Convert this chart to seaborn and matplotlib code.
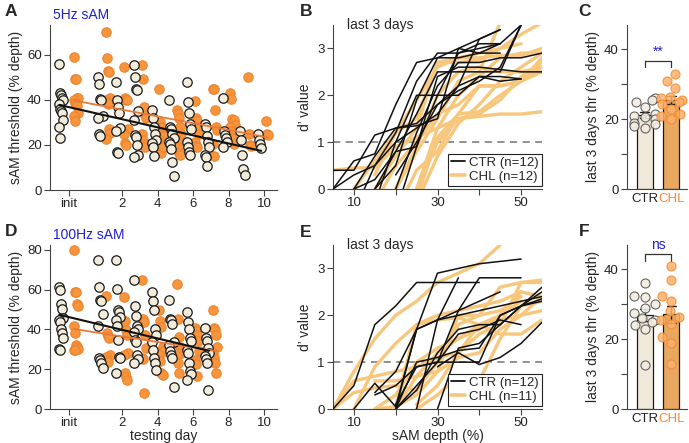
import numpy as np
import pandas as pd
import seaborn as sns
import matplotlib
matplotlib.use("Agg")
from matplotlib import pyplot as plt
from matplotlib.lines import Line2D

sns.set_style("ticks")
plt.rcParams['font.family'] = ['Liberation Sans', 'DejaVu Sans']
plt.rcParams['axes.edgecolor'] = '#444444'
plt.rcParams['xtick.color'] = '#444444'
plt.rcParams['ytick.color'] = '#444444'
plt.rcParams['xtick.labelcolor'] = '#222222'
plt.rcParams['ytick.labelcolor'] = '#222222'

# colours
ctr_face = '#F3ECDB'
chl_face = '#F8953C'
chl_edge = '#EC8430'
ctr_line = '#111111'
chl_line = '#F8C77E'
blue = '#2020CC'

# ---- panel A / D: thresholds per testing day ----
days = ['init', 1, 2, 3, 4, 5, 6, 7, 8, 9, 10]
day_pos = {'init': -1, 1: 1, 2: 2, 3: 3, 4: 4, 5: 5, 6: 6, 7: 7, 8: 8, 9: 9, 10: 10}

a_ctr = [[56, 43, 42, 41, 40, 38, 36, 35, 34, 31, 28, 23],
         [50, 47, 40.5, 40, 33, 32, 25, 24],
         [48, 40, 37, 34, 27.5, 26, 17, 16.5],
         [55.5, 50, 45, 44.5, 35, 31, 24.5, 23.5, 20, 15.5, 14.5],
         [35.5, 32, 28, 25, 22, 21, 19, 15],
         [40, 28, 27, 25, 23, 21.5, 20.5, 18, 12.5, 6],
         [48, 39, 34, 29.5, 27, 21.5, 19, 17, 15.5],
         [29.5, 28, 24, 21.5, 19, 15.5, 14.5, 10.5],
         [41, 26, 24.5, 23, 21.5, 19],
         [26, 22, 15.5, 9.5, 6.5],
         [25, 22, 20.5, 18.5]]
a_chl = [[59, 49.5, 49.5, 41, 41, 40, 38.5, 38, 37.5, 34, 33, 30.5],
         [70, 58.5, 53, 52.5, 41, 40, 39, 38, 27, 25.5, 22.5],
         [54.5, 41, 40, 40, 27, 25, 21, 20],
         [55.5, 49.5, 37, 33.5, 32, 25, 22, 20.5, 19],
         [45, 30, 28, 25, 24, 22, 20.5, 16.5, 19],
         [35.5, 34, 32, 28, 25, 22, 19, 16.5, 15.5],
         [39.5, 32, 30.5, 28, 25, 21.5, 19.5, 19],
         [45, 45, 35.5, 28, 26.5, 20.5, 15],
         [43, 40.5, 31.5, 31, 29, 28, 26, 23, 20.5],
         [50, 25, 20, 19.5],
         [30.5, 25, 24.5]]

d_ctr = [[61.5, 60, 53, 50.5, 46, 45, 44, 40, 38, 35.5, 30, 29.5],
         [75, 61.5, 55, 54.5, 48, 42, 25.5, 24.5, 23, 20.5],
         [75, 60.5, 50, 49, 46.5, 45, 42, 34.5, 26, 25.5, 18],
         [65, 52, 47, 42, 40, 38.5, 34.5, 33.5, 27, 25, 23],
         [59, 54.5, 50, 40, 37, 33.5, 29.5, 25.5, 23, 19.5],
         [55, 45.5, 45, 43, 33.5, 32, 29, 27, 25.5, 11],
         [49, 44, 40, 35.5, 34, 29.5, 28, 23, 19, 17.5, 14.5],
         [40.5, 35.5, 34, 30.5, 28, 26.5, 25, 23, 9.5]]
d_chl = [[80, 59, 59, 53, 52, 42, 38, 32, 31, 30, 29.5, 29.5],
         [57, 38, 36.5, 35.5, 27, 26, 24.5, 23.5],
         [56.5, 44.5, 39.5, 37, 28, 27, 18, 16, 14.5],
         [65, 45.5, 44, 37, 30.5, 25.5, 25, 8],
         [50, 44.5, 41, 31, 29, 27, 24, 18, 17],
         [63, 45.5, 36, 31, 28, 26.5, 23, 18],
         [40.5, 39, 37, 34, 29, 24.5, 22.5, 16.5],
         [50, 40.5, 39.5, 37, 31, 28, 25.5, 23, 18]]

# ---- panel B / E: d' vs sAM depth, one row per animal ----
depths = [5, 10, 15, 20, 25, 30, 35, 40, 45, 50, 55]
N = np.nan
b_ctr = [[0, 0.6, 0.75, 1.8, 2.7, 2.8, 2.8, 2.9, 3.1, N, N],
         [0.4, 0.4, 1.15, 1.3, 1.35, 1.5, 3.0, 3.2, 3.4, N, N],
         [0, 0.3, 0.5, 1.2, 2.3, 2.9, 2.9, 3.1, 3.1, N, N],
         [N, 0, 0.2, 0.8, 1.6, 2.5, 2.5, 2.5, 2.5, 3.5, N],
         [N, -0.5, 0.5, 1.0, 2.0, 2.0, 2.0, 2.4, 2.4, 2.35, N],
         [N, N, 0, 0.8, 0.9, 2.4, 2.6, 2.6, 2.55, 2.5, 2.5],
         [N, N, -0.3, 1.0, 1.3, 1.6, 2.2, 2.4, 2.3, 2.35, N],
         [N, N, 0, 0.5, 1.9, 2.8, 3.0, 2.9, 2.9, N, N],
         [N, N, N, 0, 1.2, 2.2, 2.7, 2.7, 2.8, 2.8, 2.9],
         [N, 0, 0.7, 1.3, 1.4, 1.8, 2.2, 3.2, 3.4, N, N],
         [N, N, N, 0.3, 1.0, 1.8, 2.1, 2.3, 2.6, 3.5, N],
         [N, N, N, -0.5, 0.9, 2.0, 2.9, 3.0, 3.1, 3.5, N]]
b_chl = [[0.4, 0.45, 0.45, 0.9, 1.1, 1.3, 1.5, 1.55, 1.6, 1.6, 1.65],
         [N, 0, 0.6, 1.2, 1.5, 2.7, 2.8, 2.8, 2.85, 2.85, 3.0],
         [N, N, 0, 0.7, 1.3, 2.7, 2.7, 2.75, 3.0, 3.3, 3.55],
         [N, N, -0.3, 0.5, 1.0, 1.6, 1.8, 2.2, 2.2, 2.3, 2.6],
         [N, N, N, 0, 0.8, 1.5, 2.3, 2.5, 3.55, N, N],
         [N, N, N, -0.5, 0.4, 0.8, 1.6, 1.65, 2.0, 2.3, 2.8],
         [N, N, N, N, 0, 1.0, 1.5, 1.6, 1.9, 2.4, 2.7],
         [N, N, N, N, -0.3, 0.7, 1.4, 1.8, 2.3, 2.6, 2.9],
         [N, N, N, 0, 0.9, 2.0, 2.5, 2.6, 2.5, 2.5, 2.6],
         [N, N, N, N, 0, 1.3, 2.0, 2.4, 2.8, 2.9, 2.9],
         [N, N, 0.3, 1.2, 1.9, 2.6, 2.8, 2.9, 3.0, 3.1, N],
         [N, N, N, N, -0.2, 1.1, 1.6, 2.2, 2.2, 2.3, 2.5]]

e_ctr = [[0, 0.5, 1.8, 2.2, 2.7, 2.7, 2.7, 2.7, N, N, N],
         [N, 0, 0.55, 0.05, 1.7, 1.9, 2.1, 2.3, 2.5, N, N],
         [N, N, 0.3, 0.5, 0.9, 1.0, 1.0, 1.0, 2.0, 2.2, 2.3],
         [N, N, N, 0, 1.7, 2.9, 3.0, 3.1, 3.15, 3.2, N],
         [N, N, N, 0.1, 0.9, 1.0, 1.6, 1.7, 1.9, 1.8, N],
         [N, N, N, 0, 0.4, 1.2, 1.7, 1.8, 1.8, 2.2, 2.6],
         [N, N, N, N, 0, 1.9, 2.8, N, N, N, N],
         [N, N, N, N, N, 0, 1.3, 1.4, 1.8, 2.2, 2.5],
         [N, N, N, 0, 0.5, 1.0, 2.1, 2.8, 2.8, 2.8, N],
         [N, N, N, N, N, 0.9, 1.2, 0.95, 1.1, 1.4, 1.85],
         [N, N, N, 0, 1.0, 1.1, 1.25, 1.3, 2.0, 2.2, 2.35],
         [N, N, 0.35, 0.8, 1.7, 1.9, 2.0, 2.1, 2.2, 2.3, 2.4]]
e_chl = [[0, 0.8, 1.5, 2.0, 2.3, 2.7, 2.9, 3.1, 3.5, N, N],
         [0, 0.6, 0.7, 0.8, 0.9, 1.1, 1.2, 1.8, 2.0, 2.3, N],
         [0, 0.35, 0.45, 0.5, 0.4, 1.0, 1.8, 2.0, 2.6, 2.7, 2.75],
         [N, N, 0, 0.3, 1.0, 1.3, 1.5, 1.8, 1.9, 2.0, 2.1],
         [N, N, 0, 0.05, 0.3, 0.8, 2.0, 2.0, 2.1, 2.4, N],
         [N, N, N, 0.05, 1.8, 1.9, 1.95, 1.8, 1.6, 1.6, 1.9],
         [N, N, 0.6, 0.6, 0.7, 0.8, 1.1, 1.2, 1.7, 2.0, 2.4],
         [N, N, N, N, 0.1, 0.5, 1.2, 1.6, 1.8, 2.7, 2.7],
         [N, N, N, 0, 0.7, 1.2, 1.5, 1.7, 2.0, 2.5, 2.4],
         [N, N, N, N, 0, 0.3, 0.7, 0.6, 1.5, 2.2, 2.3],
         [N, 0, 0.9, 1.4, 1.8, 2.0, 2.1, 2.2, 2.3, 2.5, N]]

# ---- panel C / F: last 3 days thresholds per animal ----
c_ctr = [26, 25.5, 25, 23.5, 21.5, 21, 20.5, 20, 19, 18.5, 18, 17.5]
c_chl = [33, 31, 29, 26.5, 26, 25.5, 25, 24.5, 23, 21.5, 21, 20]
f_ctr = [36, 32.5, 32, 30, 29, 27.5, 26, 25.5, 25, 24, 23, 12.5]
f_chl = [41, 37, 32.5, 31, 28, 26.5, 25.5, 24.5, 20.5, 19, 13]

TICK = 9.5
LAB = 10

W, H = 689, 443
fig = plt.figure(figsize=(W / 100, H / 100), dpi=100)


def box(l, t, r, b):
    return [l / W, 1 - b / H, (r - l) / W, (b - t) / H]


axA = fig.add_axes(box(50, 25, 277, 190))
axB = fig.add_axes(box(333, 25, 542, 189))
axC = fig.add_axes(box(627, 25, 687, 189))
axD = fig.add_axes(box(50, 245, 277, 409))
axE = fig.add_axes(box(333, 245, 542, 409))
axF = fig.add_axes(box(627, 245, 687, 409))


def day_frame(ctr, chl):
    rows = []
    for group, vals, off in [('CTR', ctr, -1), ('CHL', chl, 1)]:
        for d, ys in zip(days, vals):
            shift = 0.42 if d == 'init' else 0.22
            for i, y in enumerate(ys):
                x = day_pos[d] + off * shift + ((i % 5) - 2) * 0.06
                rows.append((group, x, y))
    return pd.DataFrame(rows, columns=['group', 'x', 'thr'])


def scatter_panel(ax, ctr, chl, ymax, yticks):
    df = day_frame(ctr, chl)
    dc = df[df.group == 'CTR']
    dh = df[df.group == 'CHL']
    sns.scatterplot(data=dh, x='x', y='thr', color=chl_face, edgecolor=chl_edge,
                    linewidth=0.8, s=46, ax=ax, zorder=2)
    sns.scatterplot(data=dc, x='x', y='thr', color=ctr_face, edgecolor='#1a1a1a',
                    linewidth=0.9, s=46, ax=ax, zorder=3)
    sns.regplot(data=dh, x='x', y='thr', scatter=False, ci=None, ax=ax,
                line_kws={'color': '#E9793A', 'lw': 1.3, 'zorder': 4})
    sns.regplot(data=dc, x='x', y='thr', scatter=False, ci=None, ax=ax,
                line_kws={'color': '#111111', 'lw': 1.5, 'zorder': 5})
    ax.set_xlim(-2.06, 10.73)
    ax.set_ylim(0, ymax)
    ax.set_xticks([-1, 2, 4, 6, 8, 10])
    ax.set_xticklabels(['init', '2', '4', '6', '8', '10'])
    ax.set_yticks(yticks)
    ax.set_ylabel('sAM threshold (% depth)', fontsize=LAB, labelpad=3)
    ax.set_xlabel('')
    ax.tick_params(labelsize=TICK, length=4, pad=2)
    sns.despine(ax=ax)


scatter_panel(axA, a_ctr, a_chl, 73.3, [0, 20, 40, 60])
scatter_panel(axD, d_ctr, d_chl, 82.5, [0, 20, 40, 60, 80])
axD.set_xlabel('testing day', fontsize=LAB, labelpad=0)


def curve_frame(curves):
    rows = []
    for u, c in enumerate(curves):
        for dep, v in zip(depths, c):
            if not np.isnan(v):
                rows.append((u, dep, v))
    return pd.DataFrame(rows, columns=['unit', 'depth', 'dval'])


def dprime_panel(ax, ctr, chl, n_ctr, n_chl):
    ax.axhline(1, color='#888888', ls=(0, (4, 3)), lw=1.3, zorder=1)
    sns.lineplot(data=curve_frame(chl), x='depth', y='dval', units='unit',
                 estimator=None, color=chl_line, lw=2.4, ax=ax, zorder=2)
    sns.lineplot(data=curve_frame(ctr), x='depth', y='dval', units='unit',
                 estimator=None, color=ctr_line, lw=1.1, ax=ax, zorder=3)
    ax.set_xlim(5, 55)
    ax.set_ylim(0, 3.5)
    ax.set_xticks([10, 20, 30, 40, 50])
    ax.set_xticklabels(['10', '', '30', '', '50'])
    ax.set_yticks([0, 1, 2, 3])
    ax.set_ylabel('d\u2019 value', fontsize=LAB, labelpad=4)
    ax.set_xlabel('')
    ax.tick_params(labelsize=TICK, length=4, pad=2)
    ax.text(0.065, 1.0, 'last 3 days', transform=ax.transAxes, fontsize=LAB,
            va='center', ha='left')
    handles = [Line2D([], [], color=ctr_line, lw=1.3),
               Line2D([], [], color=chl_line, lw=2.6)]
    leg = ax.legend(handles, ['CTR (n=%d)' % n_ctr, 'CHL (n=%d)' % n_chl],
                    loc='lower right', bbox_to_anchor=(1.03, -0.02), fontsize=9.5,
                    handlelength=1.1, handletextpad=0.3, borderpad=0.2,
                    labelspacing=0.15, fancybox=False, framealpha=1)
    leg.get_frame().set_edgecolor('#222222')
    leg.get_frame().set_linewidth(0.8)
    sns.despine(ax=ax)


dprime_panel(axB, b_ctr, b_chl, 12, 12)
dprime_panel(axE, e_ctr, e_chl, 12, 11)
axE.set_xlabel('sAM depth (%)', fontsize=LAB, labelpad=0)


def bar_panel(ax, ctr, chl, y_br, label):
    df = pd.DataFrame({'group': ['CTR'] * len(ctr) + ['CHL'] * len(chl),
                       'thr': ctr + chl})
    order = ['CTR', 'CHL']
    sns.barplot(data=df, x='group', y='thr', hue='group', order=order,
                palette={'CTR': '#F5EAD6', 'CHL': '#FFAA48'}, errorbar='se',
                capsize=0.35, width=0.6, edgecolor='#1a1a1a', linewidth=0.9,
                err_kws={'color': '#1a1a1a', 'linewidth': 1.0}, legend=False, ax=ax)
    sns.swarmplot(data=df[df.group == 'CTR'], x='group', y='thr', order=order,
                  color='#F2ECDF', edgecolor='#555555', linewidth=0.8, size=6.5,
                  alpha=0.9, ax=ax, zorder=4)
    sns.swarmplot(data=df[df.group == 'CHL'], x='group', y='thr', order=order,
                  color='#FFB06A', edgecolor='#F08A30', linewidth=0.8, size=6.5,
                  alpha=0.85, ax=ax, zorder=4)
    ax.plot([0, 0, 1, 1], [y_br - 1.8, y_br, y_br, y_br - 1.8], color='#333333',
            lw=0.9, clip_on=False)
    ax.text(0.5, y_br + 0.6, label, color=blue, ha='center', va='bottom',
            fontsize=LAB, clip_on=False)
    ax.set_xlim(-0.67, 1.6)
    ax.set_ylim(0, 47)
    ax.set_yticks([0, 10, 20, 30, 40])
    ax.set_yticklabels(['0', '', '20', '', '40'])
    ax.set_ylabel('last 3 days thr (% depth)', fontsize=LAB, labelpad=3)
    ax.set_xlabel('')
    ax.tick_params(axis='y', labelsize=TICK, length=4, pad=2)
    ax.tick_params(axis='x', labelsize=TICK, length=0, pad=3)
    ax.get_xticklabels()[1].set_color('#F08A30')
    sns.despine(ax=ax)


bar_panel(axC, c_ctr, c_chl, 36.8, '**')
bar_panel(axF, f_ctr, f_chl, 44.3, 'ns')

for lab, x, y in [('A', 5, 12), ('B', 300, 12), ('C', 578, 12),
                  ('D', 5, 232), ('E', 300, 233), ('F', 579, 232)]:
    fig.text(x / W, 1 - y / H, lab, fontsize=12.5, fontweight='bold', va='center')
fig.text(53 / W, 1 - 15 / H, '5Hz sAM', color=blue, fontsize=LAB, va='center')
fig.text(53 / W, 1 - 235 / H, '100Hz sAM', color=blue, fontsize=LAB, va='center')

fig.savefig('out.png', dpi=100)
